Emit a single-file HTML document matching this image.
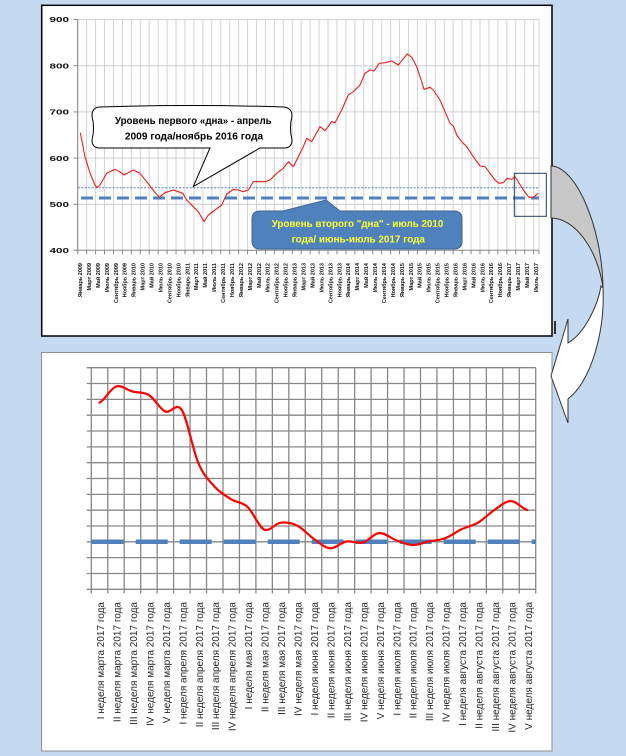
<!DOCTYPE html>
<html><head><meta charset="utf-8">
<style>
html,body{margin:0;padding:0;width:626px;height:756px;overflow:hidden;background:#c5d9f1}
svg{display:block}
.xl{font-family:"Liberation Sans",sans-serif;font-size:5.5px;font-weight:bold;fill:#111;text-anchor:end}
.yl{font-family:"Liberation Sans",sans-serif;font-size:7.5px;font-weight:bold;fill:#111;text-anchor:end}
.bl{font-family:"Liberation Sans",sans-serif;font-size:10px;fill:#262626;text-anchor:end}
.ct{font-family:"Liberation Sans",sans-serif;font-size:10px;font-weight:bold;text-anchor:middle}
</style></head><body>
<svg width="626" height="756" viewBox="0 0 626 756" xmlns="http://www.w3.org/2000/svg">
<rect x="0" y="0" width="626" height="756" fill="#c5d9f1"/>

<!-- ===== TOP CHART ===== -->
<rect x="41.7" y="5.3" width="510.3" height="330.7" fill="#fff" stroke="#000" stroke-width="1.5"/>
<!-- vertical gridlines -->
<line x1="77.2" y1="134.9" x2="539.5" y2="134.9" stroke="#d3d3d3" stroke-width="230.8" stroke-dasharray="1 7.94"/>
<line x1="539" y1="19.5" x2="539" y2="250.3" stroke="#d3d3d3" stroke-width="1"/>
<!-- horizontal gridlines -->
<g stroke="#cfcfcf" stroke-width="1">
<line x1="77.7" y1="19.5" x2="539" y2="19.5"/>
<line x1="77.7" y1="65.7" x2="539" y2="65.7"/>
<line x1="77.7" y1="111.9" x2="539" y2="111.9"/>
<line x1="77.7" y1="158.1" x2="539" y2="158.1"/>
<line x1="77.7" y1="204.3" x2="539" y2="204.3"/>
</g>
<!-- axes -->
<g stroke="#868686" stroke-width="1">
<line x1="77.7" y1="19.5" x2="77.7" y2="250.3"/>
<line x1="77.7" y1="250.3" x2="539" y2="250.3"/>
<line x1="73.5" y1="19.5" x2="77.7" y2="19.5"/>
<line x1="73.5" y1="65.7" x2="77.7" y2="65.7"/>
<line x1="73.5" y1="111.9" x2="77.7" y2="111.9"/>
<line x1="73.5" y1="158.1" x2="77.7" y2="158.1"/>
<line x1="73.5" y1="204.3" x2="77.7" y2="204.3"/>
<line x1="73.5" y1="250.3" x2="77.7" y2="250.3"/>
<line x1="539" y1="250.3" x2="539" y2="254.3"/>
</g>
<line x1="77.2" y1="252.3" x2="539.5" y2="252.3" stroke="#868686" stroke-width="4" stroke-dasharray="1 7.94"/>
<!-- y labels -->
<text class="yl" x="69" y="22.2" textLength="19.5" lengthAdjust="spacingAndGlyphs">900</text>
<text class="yl" x="69" y="68.4" textLength="19.5" lengthAdjust="spacingAndGlyphs">800</text>
<text class="yl" x="69" y="114.6" textLength="19.5" lengthAdjust="spacingAndGlyphs">700</text>
<text class="yl" x="69" y="160.8" textLength="19.5" lengthAdjust="spacingAndGlyphs">600</text>
<text class="yl" x="69" y="207" textLength="19.5" lengthAdjust="spacingAndGlyphs">500</text>
<text class="yl" x="69" y="253" textLength="19.5" lengthAdjust="spacingAndGlyphs">400</text>
<!-- x labels -->
<g class="xl">
<text transform="translate(82 263)rotate(-90)">Январь 2009</text>
<text transform="translate(90.94 263)rotate(-90)">Март 2009</text>
<text transform="translate(99.88 263)rotate(-90)">Май 2009</text>
<text transform="translate(108.82 263)rotate(-90)">Июль 2009</text>
<text transform="translate(117.76 263)rotate(-90)">Сентябрь 2009</text>
<text transform="translate(126.7 263)rotate(-90)">Ноябрь 2009</text>
<text transform="translate(135.64 263)rotate(-90)">Январь 2010</text>
<text transform="translate(144.58 263)rotate(-90)">Март 2010</text>
<text transform="translate(153.52 263)rotate(-90)">Май 2010</text>
<text transform="translate(162.46 263)rotate(-90)">Июль 2010</text>
<text transform="translate(171.4 263)rotate(-90)">Сентябрь 2010</text>
<text transform="translate(180.34 263)rotate(-90)">Ноябрь 2010</text>
<text transform="translate(189.28 263)rotate(-90)">Январь 2011</text>
<text transform="translate(198.22 263)rotate(-90)">Март 2011</text>
<text transform="translate(207.16 263)rotate(-90)">Май 2011</text>
<text transform="translate(216.1 263)rotate(-90)">Июль 2011</text>
<text transform="translate(225.04 263)rotate(-90)">Сентябрь 2011</text>
<text transform="translate(233.98 263)rotate(-90)">Ноябрь 2011</text>
<text transform="translate(242.92 263)rotate(-90)">Январь 2012</text>
<text transform="translate(251.86 263)rotate(-90)">Март 2012</text>
<text transform="translate(260.8 263)rotate(-90)">Май 2012</text>
<text transform="translate(269.74 263)rotate(-90)">Июль 2012</text>
<text transform="translate(278.68 263)rotate(-90)">Сентябрь 2012</text>
<text transform="translate(287.62 263)rotate(-90)">Ноябрь 2012</text>
<text transform="translate(296.56 263)rotate(-90)">Январь 2013</text>
<text transform="translate(305.5 263)rotate(-90)">Март 2013</text>
<text transform="translate(314.44 263)rotate(-90)">Май 2013</text>
<text transform="translate(323.38 263)rotate(-90)">Июль 2013</text>
<text transform="translate(332.32 263)rotate(-90)">Сентябрь 2013</text>
<text transform="translate(341.26 263)rotate(-90)">Ноябрь 2013</text>
<text transform="translate(350.2 263)rotate(-90)">Январь 2014</text>
<text transform="translate(359.14 263)rotate(-90)">Март 2014</text>
<text transform="translate(368.08 263)rotate(-90)">Май 2014</text>
<text transform="translate(377.02 263)rotate(-90)">Июль 2014</text>
<text transform="translate(385.96 263)rotate(-90)">Сентябрь 2014</text>
<text transform="translate(394.9 263)rotate(-90)">Ноябрь 2014</text>
<text transform="translate(403.84 263)rotate(-90)">Январь 2015</text>
<text transform="translate(412.78 263)rotate(-90)">Март 2015</text>
<text transform="translate(421.72 263)rotate(-90)">Май 2015</text>
<text transform="translate(430.66 263)rotate(-90)">Июль 2015</text>
<text transform="translate(439.6 263)rotate(-90)">Сентябрь 2015</text>
<text transform="translate(448.54 263)rotate(-90)">Ноябрь 2015</text>
<text transform="translate(457.48 263)rotate(-90)">Январь 2016</text>
<text transform="translate(466.42 263)rotate(-90)">Март 2016</text>
<text transform="translate(475.36 263)rotate(-90)">Май 2016</text>
<text transform="translate(484.3 263)rotate(-90)">Июль 2016</text>
<text transform="translate(493.24 263)rotate(-90)">Сентябрь 2016</text>
<text transform="translate(502.18 263)rotate(-90)">Ноябрь 2016</text>
<text transform="translate(511.12 263)rotate(-90)">Январь 2017</text>
<text transform="translate(520.06 263)rotate(-90)">Март 2017</text>
<text transform="translate(529 263)rotate(-90)">Май 2017</text>
<text transform="translate(537.94 263)rotate(-90)">Июль 2017</text>
</g>
<!-- level lines -->
<line x1="77.7" y1="187.7" x2="539" y2="187.7" stroke="#4a7ebb" stroke-width="1" stroke-dasharray="2 1.5"/>
<line x1="81" y1="198" x2="539" y2="198" stroke="#4f81bd" stroke-width="3" stroke-dasharray="12 6"/>
<!-- red series -->
<polyline fill="none" stroke="#ee1c1c" stroke-width="1.1" stroke-linejoin="round" points="80.3,132.7 85,156.7 90,173 95,185 97,187.5 100,185 106.7,173.3 115,169.3 120,172 124,175 133.3,170 140,173.3 146.7,181.7 153,190 159.3,197.3 165,192.7 173.3,190 178.3,191.7 182.7,193.3 186.7,200 191.7,205 198.3,211.7 204,221.7 208.3,215 215,210 221.7,205 226.7,194 233.3,189.5 238.3,190 243.3,191.7 248.3,190 253.3,181.7 258.3,181.7 265,181.7 270,180 276.7,173.3 283.3,168.3 288.3,161.7 293.3,166.7 298.3,156.7 303.3,146.7 306.7,138.3 311.7,141.7 320,126.7 325,130.7 331.7,121.7 335,122.7 341.7,110 348.3,95 353.3,91.7 360,85 365,73.3 370,70 374,71 379.3,63.3 385,62.7 391.7,61 398.3,65 401.7,60.7 407.3,54 411.7,57.3 416.7,66.7 421.7,81.7 424,89.3 430,87.3 433.3,90 440,100 445,111.7 450,123.3 453.3,126 456.7,135 461.7,141.7 466.7,146.7 473.3,156.7 480,166 485,166.7 490,173.3 495,180 499,183.3 503.3,182.7 507.3,178.3 511.7,179.3 515,176.7 518.3,181.7 523.3,190 529,197.3 533.3,197.3 538.3,193.3"/>
<!-- white callout -->
<path d="M100,107 Q192,104 284,107 Q292,108 292,116 Q289,128 292,140 Q292,148 284,148 L260,148 L193.3,186.5 L210,148 L100,148 Q92,148 92,140 Q95,128 92,116 Q92,107 100,107 Z" fill="#fff" stroke="#000" stroke-width="1"/>
<text class="ct" x="193.3" y="124" fill="#000" textLength="156.7" lengthAdjust="spacingAndGlyphs">Уровень первого «дна» - апрель</text>
<text class="ct" x="194" y="139.5" fill="#000" textLength="138.3" lengthAdjust="spacingAndGlyphs">2009 года/ноябрь 2016 года</text>
<!-- blue callout -->
<path d="M260,211 L283,211 L326,200 L340,211 L454,211 Q462,211 462,219 L462,241 Q462,249 454,249 L260,249 Q252,249 252,241 L252,219 Q252,211 260,211 Z" fill="#4f81bd" stroke="#3a6597" stroke-width="1"/>
<text class="ct" x="357.5" y="227" fill="#ffff33" textLength="171.6" lengthAdjust="spacingAndGlyphs">Уровень второго "дна"  - июль 2010</text>
<text class="ct" x="358.3" y="242.5" fill="#ffff33" textLength="133.3" lengthAdjust="spacingAndGlyphs">года/ июнь-июль  2017 года</text>
<!-- zoom rect -->
<rect x="514.3" y="173.3" width="32" height="43" fill="none" stroke="#243f60" stroke-width="1"/>

<!-- ===== BOTTOM CHART ===== -->
<rect x="41.5" y="352.5" width="510.5" height="398.5" fill="#fff" stroke="#8e8e8e" stroke-width="1"/>
<line x1="90.65" y1="480.6" x2="536.5" y2="480.6" stroke="#878787" stroke-width="225.8" stroke-dasharray="1.3 15.16"/>
<line x1="311.2" y1="367.05" x2="311.2" y2="590" stroke="#878787" stroke-width="449" stroke-dasharray="1.3 14.53"/>
<!-- dashed level -->
<line x1="91.7" y1="541.7" x2="535.7" y2="541.7" stroke="#4f81bd" stroke-width="4.5" stroke-dasharray="32 12"/>
<!-- red smooth series -->
<path fill="none" stroke="#ff0000" stroke-width="2.2" stroke-linecap="round" d="M99.5,402.7 C104.99,400.0 110.51,388.37 116,386.5 C121.49,384.63 126.91,390.08 132.4,391.5 C137.89,392.92 143.41,391.67 148.9,395 C154.39,398.33 159.81,409.0 165.3,411.5 C170.79,414.0 176.31,401.42 181.8,410 C187.29,418.58 192.81,450.22 198.3,463 C203.79,475.78 209.21,480.65 214.7,486.7 C220.19,492.75 225.71,495.92 231.2,499.3 C236.69,502.68 242.11,501.97 247.6,507 C253.09,512.03 258.61,526.88 264.1,529.5 C269.59,532.12 275.01,523.37 280.5,522.7 C285.99,522.03 291.51,522.87 297,525.5 C302.49,528.13 307.91,534.7 313.4,538.5 C318.89,542.3 324.41,547.8 329.9,548.3 C335.39,548.8 340.81,542.47 346.3,541.5 C351.79,540.53 357.31,543.92 362.8,542.5 C368.29,541.08 373.71,533.42 379.2,533 C384.69,532.58 390.21,538.0 395.7,540 C401.19,542.0 406.61,544.75 412.1,545 C417.59,545.25 423.11,542.62 428.6,541.5 C434.09,540.38 439.51,540.33 445,538.3 C450.49,536.27 456.01,531.9 461.5,529.3 C466.99,526.7 472.41,525.92 477.9,522.7 C483.39,519.48 488.91,513.62 494.4,510 C499.89,506.38 505.31,501.0 510.8,501 C516.29,501.0 521.81,508.5 527.3,510"/>
<!-- bottom labels -->
<g class="bl">
<text transform="translate(104 602)rotate(-90)">I неделя марта 2017 года</text>
<text transform="translate(120.46 602)rotate(-90)">II неделя марта 2017 года</text>
<text transform="translate(136.92 602)rotate(-90)">III неделя марта 2017 года</text>
<text transform="translate(153.38 602)rotate(-90)">IV неделя марта 2017 года</text>
<text transform="translate(169.84 602)rotate(-90)">V неделя марта 2017 года</text>
<text transform="translate(186.3 602)rotate(-90)">I неделя апреля 2017 года</text>
<text transform="translate(202.76 602)rotate(-90)">II неделя апреля 2017 года</text>
<text transform="translate(219.22 602)rotate(-90)">III неделя апреля 2017 года</text>
<text transform="translate(235.68 602)rotate(-90)">IV неделя апреля 2017 года</text>
<text transform="translate(252.14 602)rotate(-90)">I неделя мая 2017 года</text>
<text transform="translate(268.6 602)rotate(-90)">II неделя мая 2017 года</text>
<text transform="translate(285.06 602)rotate(-90)">III неделя мая 2017 года</text>
<text transform="translate(301.52 602)rotate(-90)">IV неделя мая 2017 года</text>
<text transform="translate(317.98 602)rotate(-90)">I неделя июня 2017 года</text>
<text transform="translate(334.44 602)rotate(-90)">II неделя июня 2017 года</text>
<text transform="translate(350.9 602)rotate(-90)">III неделя июня 2017 года</text>
<text transform="translate(367.36 602)rotate(-90)">IV неделя июня 2017 года</text>
<text transform="translate(383.82 602)rotate(-90)">V неделя июня 2017 года</text>
<text transform="translate(400.28 602)rotate(-90)">I неделя июля 2017 года</text>
<text transform="translate(416.74 602)rotate(-90)">II неделя июля 2017 года</text>
<text transform="translate(433.2 602)rotate(-90)">III неделя июля 2017 года</text>
<text transform="translate(449.66 602)rotate(-90)">IV неделя июля 2017 года</text>
<text transform="translate(466.12 602)rotate(-90)">I неделя августа 2017 года</text>
<text transform="translate(482.58 602)rotate(-90)">II неделя августа 2017 года</text>
<text transform="translate(499.04 602)rotate(-90)">III неделя августа 2017 года</text>
<text transform="translate(515.5 602)rotate(-90)">IV неделя августа 2017 года</text>
<text transform="translate(531.96 602)rotate(-90)">V неделя августа 2017 года</text>
</g>

<!-- ===== CURVED ARROW ===== -->
<path d="M551,166 C575,166 602,225 603,288 C598,250 575,218 551,218 Z" fill="#c8c8c8" stroke="#333" stroke-width="1"/>
<path d="M603,288 C605,330 592,380 568,399 L568,423 L551,376 L568,319 L568,343 C585,333 598,305 601,286 Z" fill="#fff" stroke="#333" stroke-width="1"/>
<rect x="554" y="321" width="2" height="13" fill="#3a3020"/>
</svg>
</body></html>
